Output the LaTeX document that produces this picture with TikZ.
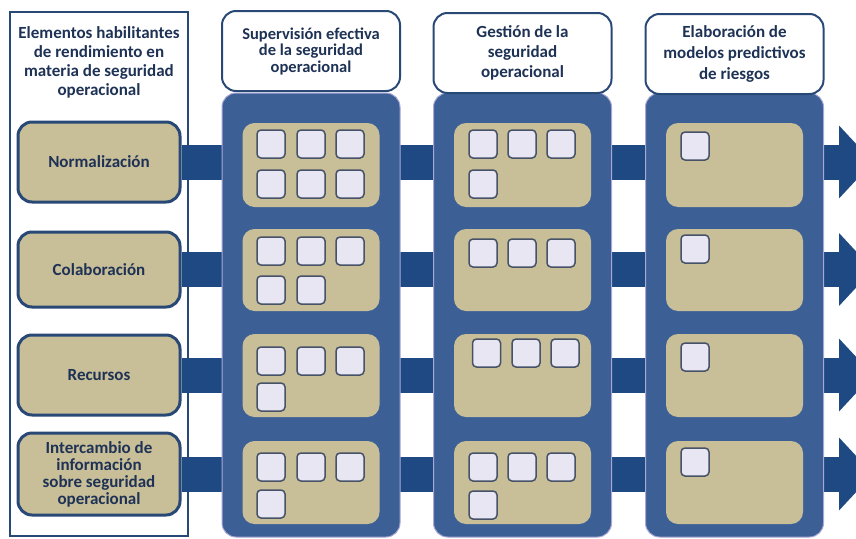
\documentclass[tikz,border=0pt]{standalone}
\usepackage{fontspec}
\setmainfont{Carlito}
\usetikzlibrary{arrows.meta, positioning}

\definecolor{colblue}{RGB}{60,96,150}
\definecolor{barblue}{RGB}{30,73,130}
\definecolor{edgeblue}{RGB}{40,72,118}
\definecolor{rimlav}{RGB}{170,168,214}
\definecolor{tanfill}{RGB}{200,190,152}
\definecolor{sqfill}{RGB}{232,230,242}
\definecolor{sqedge}{RGB}{70,82,104}
\definecolor{txtblue}{RGB}{30,50,85}

\begin{document}
\begin{tikzpicture}[x=1pt,y=-1pt,text=txtblue,font=\bfseries\fontsize{17}{19}\selectfont]
	\tikzset{
		panel/.style={draw=edgeblue, line width=2.5pt, fill=white, minimum width=178pt, minimum height=524pt, inner sep=0pt},
		enabler/.style={draw=edgeblue, line width=3pt, fill=tanfill, rounded corners=14pt, minimum width=162pt, align=center, inner sep=0pt},
		column/.style={draw=rimlav, line width=1pt, fill=colblue, rounded corners=14pt, minimum width=178pt, minimum height=444pt, inner sep=0pt},
		header/.style={draw=edgeblue, line width=2pt, fill=white, rounded corners=14pt, minimum width=178pt, minimum height=80pt, align=center, inner sep=0pt},
		cell/.style={fill=tanfill, rounded corners=12pt, minimum width=137pt, inner sep=0pt},
		sq/.style={draw=sqedge, line width=1.5pt, fill=sqfill, rounded corners=4pt, minimum size=28pt, inner sep=0pt},
		flow/.style={draw=barblue, line width=35pt, -{Triangle[length=34pt,width=71pt]}}
	}
	\useasboundingbox (0,0) rectangle (856,538);
	\clip (0,0) rectangle (856,538);

	% left panel with the enablers
	\node[panel] (enab) at (99,274) {};
	\node[align=center] (enabT) at (99,62) {Elementos habilitantes\\de rendimiento en\\materia de seguridad\\operacional};
	\node[enabler, minimum height=80pt] (norm) at (99,162) {Normalización};
	\node[enabler, minimum height=75pt] (colab) at (99,269.5) {Colaboración};
	\node[enabler, minimum height=80pt] (recu) at (99,375) {Recursos};
	\node[enabler, minimum height=82pt, font=\bfseries\fontsize{17}{17}\selectfont] (inter) at (99,474) {Intercambio de\\información\\sobre seguridad\\operacional};

	% arrows running under the columns
	\coordinate (tip1) at (873,162);
	\coordinate (tip2) at (873,269.5);
	\coordinate (tip3) at (873,375);
	\coordinate (tip4) at (873,474);
	\draw[flow] (norm.east) -- (tip1);
	\draw[flow] (colab.east) -- (tip2);
	\draw[flow] (recu.east) -- (tip3);
	\draw[flow] (inter.east) -- (tip4);

	% columns
	\node[column] (sup) at (311,315) {};
	\node[column] (ges) at (522.5,315) {};
	\node[column] (mod) at (734.5,315) {};
	\node[header, font=\bfseries\fontsize{16.5}{16.5}\selectfont] (hsup) at (311,51) {Supervisión efectiva\\de la seguridad\\operacional};
	\node[header, font=\bfseries\fontsize{17}{20}\selectfont] (hges) at (522.5,53) {Gestión de la\\seguridad\\operacional};
	\node[header, font=\bfseries\fontsize{17}{21}\selectfont] (hmod) at (734.5,54) {Elaboración de\\modelos predictivos\\de riesgos};

	% cells
	\foreach \cx/\cn in {311/sup, 522.5/ges, 734.5/mod}{
		\node[cell, minimum height=84pt] (\cn1) at (\cx,165) {};
		\node[cell, minimum height=82pt] (\cn2) at (\cx,270) {};
		\node[cell, minimum height=83pt] (\cn3) at (\cx,375.5) {};
		\node[cell, minimum height=83pt] (\cn4) at (\cx,482.5) {};
	}

	% small squares
	\foreach \x/\y [count=\k] in {271/144, 311/144, 350/144, 271/184, 311/184, 350/184,
		271/251, 311/251, 350/251, 271/290, 311/290,
		271/361, 311/361, 350/361, 271/397,
		271/467, 311/467, 350/467, 271/504}
		\node[sq] (ssup\k) at (\x,\y) {};
	\foreach \x/\y [count=\k] in {483/144, 522/144, 561/144, 483/184,
		483/253, 522/253, 561/253,
		486.5/353, 526/353, 565/353,
		483/467, 522/467, 561/467, 483/505}
		\node[sq] (sges\k) at (\x,\y) {};
	\foreach \y [count=\k] in {146, 249, 357, 462}
		\node[sq] (smod\k) at (695,\y) {};
\end{tikzpicture}
\end{document}
